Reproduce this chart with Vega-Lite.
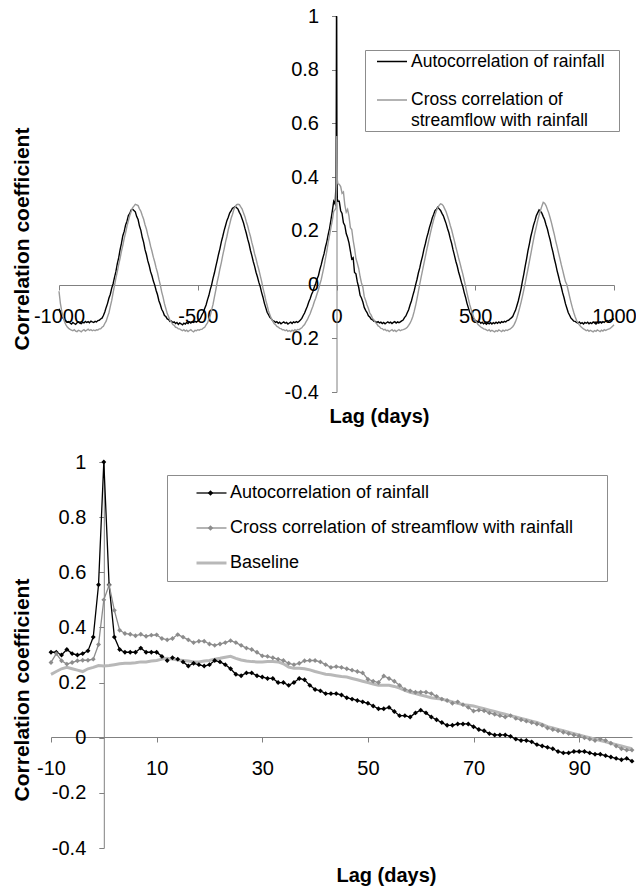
{
"$schema": "https://vega.github.io/schema/vega-lite/v6.json",
"background": "white",
"padding": {"left": 10, "top": 6, "right": 0, "bottom": 0},
"bounds": "full",
"align": "none",
"columns": 1,
"spacing": 26,
"config": {
  "font": "Liberation Sans",
  "view": {"stroke": null},
  "axis": {"grid": false, "domainColor": "#808080", "tickColor": "#808080", "tickSize": 5, "labelFontSize": 20, "labelColor": "#000000", "titleFontSize": 20, "titleFontWeight": "bold", "titleColor": "#000000", "labelFlush": false, "labelOverlap": false},
  "style": {"guide-label": {"lineHeight": 21}}
},
"resolve": {"scale": {"color": "independent", "strokeWidth": "independent", "fill": "independent"}, "legend": {"color": "independent", "strokeWidth": "independent", "fill": "independent"}},
"datasets": {
"top": [
{"lag":-1000,"a":-0.09,"c":-0.025},{"lag":-995,"a":-0.105,"c":-0.07},{"lag":-990,"a":-0.118,"c":-0.1},{"lag":-985,"a":-0.126,"c":-0.122},{"lag":-980,"a":-0.132,"c":-0.138},{"lag":-975,"a":-0.136,"c":-0.15},{"lag":-970,"a":-0.14,"c":-0.158},{"lag":-965,"a":-0.138,"c":-0.163},{"lag":-960,"a":-0.143,"c":-0.167},{"lag":-955,"a":-0.147,"c":-0.17},{"lag":-950,"a":-0.141,"c":-0.172},{"lag":-945,"a":-0.145,"c":-0.168},{"lag":-940,"a":-0.148,"c":-0.173},{"lag":-935,"a":-0.142,"c":-0.175},{"lag":-930,"a":-0.139,"c":-0.17},{"lag":-925,"a":-0.144,"c":-0.172},{"lag":-920,"a":-0.146,"c":-0.176},{"lag":-915,"a":-0.14,"c":-0.171},{"lag":-910,"a":-0.143,"c":-0.168},{"lag":-905,"a":-0.137,"c":-0.173},{"lag":-900,"a":-0.141,"c":-0.17},{"lag":-895,"a":-0.138,"c":-0.166},{"lag":-890,"a":-0.142,"c":-0.171},{"lag":-885,"a":-0.136,"c":-0.168},{"lag":-880,"a":-0.139,"c":-0.172},{"lag":-875,"a":-0.141,"c":-0.169},{"lag":-870,"a":-0.137,"c":-0.172},{"lag":-865,"a":-0.139,"c":-0.168},{"lag":-860,"a":-0.134,"c":-0.169},{"lag":-855,"a":-0.133,"c":-0.165},{"lag":-850,"a":-0.128,"c":-0.165},{"lag":-845,"a":-0.125,"c":-0.159},{"lag":-840,"a":-0.115,"c":-0.155},{"lag":-835,"a":-0.102,"c":-0.145},{"lag":-830,"a":-0.085,"c":-0.136},{"lag":-825,"a":-0.07,"c":-0.12},{"lag":-820,"a":-0.05,"c":-0.105},{"lag":-815,"a":-0.036,"c":-0.081},{"lag":-810,"a":-0.013,"c":-0.059},{"lag":-805,"a":0.003,"c":-0.03},{"lag":-800,"a":0.027,"c":-0.004},{"lag":-795,"a":0.048,"c":0.024},{"lag":-790,"a":0.077,"c":0.047},{"lag":-785,"a":0.099,"c":0.074},{"lag":-780,"a":0.129,"c":0.097},{"lag":-775,"a":0.153,"c":0.124},{"lag":-770,"a":0.182,"c":0.146},{"lag":-765,"a":0.198,"c":0.172},{"lag":-760,"a":0.222,"c":0.193},{"lag":-755,"a":0.236,"c":0.218},{"lag":-750,"a":0.257,"c":0.237},{"lag":-745,"a":0.265,"c":0.257},{"lag":-740,"a":0.278,"c":0.272},{"lag":-735,"a":0.281,"c":0.286},{"lag":-730,"a":0.276,"c":0.292},{"lag":-725,"a":0.271,"c":0.299},{"lag":-720,"a":0.253,"c":0.297},{"lag":-715,"a":0.242,"c":0.294},{"lag":-710,"a":0.218,"c":0.282},{"lag":-705,"a":0.202,"c":0.273},{"lag":-700,"a":0.176,"c":0.257},{"lag":-695,"a":0.157,"c":0.243},{"lag":-690,"a":0.13,"c":0.223},{"lag":-685,"a":0.112,"c":0.207},{"lag":-680,"a":0.088,"c":0.185},{"lag":-675,"a":0.071,"c":0.166},{"lag":-670,"a":0.048,"c":0.143},{"lag":-665,"a":0.033,"c":0.124},{"lag":-660,"a":0.013,"c":0.102},{"lag":-655,"a":-0.002,"c":0.084},{"lag":-650,"a":-0.022,"c":0.062},{"lag":-645,"a":-0.038,"c":0.044},{"lag":-640,"a":-0.06,"c":0.02},{"lag":-635,"a":-0.074,"c":-0.001},{"lag":-630,"a":-0.092,"c":-0.027},{"lag":-625,"a":-0.101,"c":-0.047},{"lag":-620,"a":-0.115,"c":-0.071},{"lag":-615,"a":-0.119,"c":-0.089},{"lag":-610,"a":-0.128,"c":-0.108},{"lag":-605,"a":-0.13,"c":-0.12},{"lag":-600,"a":-0.137,"c":-0.133},{"lag":-595,"a":-0.136,"c":-0.14},{"lag":-590,"a":-0.142,"c":-0.149},{"lag":-585,"a":-0.139,"c":-0.152},{"lag":-580,"a":-0.145,"c":-0.159},{"lag":-575,"a":-0.141,"c":-0.16},{"lag":-570,"a":-0.148,"c":-0.165},{"lag":-565,"a":-0.143,"c":-0.165},{"lag":-560,"a":-0.146,"c":-0.169},{"lag":-555,"a":-0.15,"c":-0.172},{"lag":-550,"a":-0.144,"c":-0.168},{"lag":-545,"a":-0.147,"c":-0.173},{"lag":-540,"a":-0.141,"c":-0.17},{"lag":-535,"a":-0.145,"c":-0.175},{"lag":-530,"a":-0.139,"c":-0.171},{"lag":-525,"a":-0.143,"c":-0.168},{"lag":-520,"a":-0.138,"c":-0.173},{"lag":-515,"a":-0.141,"c":-0.176},{"lag":-510,"a":-0.137,"c":-0.17},{"lag":-505,"a":-0.14,"c":-0.172},{"lag":-500,"a":-0.136,"c":-0.168},{"lag":-495,"a":-0.132,"c":-0.17},{"lag":-490,"a":-0.125,"c":-0.167},{"lag":-485,"a":-0.113,"c":-0.167},{"lag":-480,"a":-0.104,"c":-0.162},{"lag":-475,"a":-0.089,"c":-0.159},{"lag":-470,"a":-0.076,"c":-0.15},{"lag":-465,"a":-0.057,"c":-0.143},{"lag":-460,"a":-0.041,"c":-0.129},{"lag":-455,"a":-0.019,"c":-0.116},{"lag":-450,"a":-0.001,"c":-0.094},{"lag":-445,"a":0.023,"c":-0.074},{"lag":-440,"a":0.043,"c":-0.047},{"lag":-435,"a":0.067,"c":-0.021},{"lag":-430,"a":0.089,"c":0.009},{"lag":-425,"a":0.113,"c":0.032},{"lag":-420,"a":0.134,"c":0.059},{"lag":-415,"a":0.159,"c":0.082},{"lag":-410,"a":0.179,"c":0.109},{"lag":-405,"a":0.201,"c":0.132},{"lag":-400,"a":0.219,"c":0.158},{"lag":-395,"a":0.238,"c":0.179},{"lag":-390,"a":0.251,"c":0.204},{"lag":-385,"a":0.266,"c":0.224},{"lag":-380,"a":0.274,"c":0.246},{"lag":-375,"a":0.284,"c":0.261},{"lag":-370,"a":0.287,"c":0.279},{"lag":-365,"a":0.291,"c":0.289},{"lag":-360,"a":0.286,"c":0.298},{"lag":-355,"a":0.281,"c":0.299},{"lag":-350,"a":0.269,"c":0.298},{"lag":-345,"a":0.259,"c":0.289},{"lag":-340,"a":0.244,"c":0.281},{"lag":-335,"a":0.229,"c":0.266},{"lag":-330,"a":0.209,"c":0.253},{"lag":-325,"a":0.191,"c":0.234},{"lag":-320,"a":0.169,"c":0.218},{"lag":-315,"a":0.151,"c":0.197},{"lag":-310,"a":0.127,"c":0.179},{"lag":-305,"a":0.108,"c":0.156},{"lag":-300,"a":0.086,"c":0.137},{"lag":-295,"a":0.068,"c":0.114},{"lag":-290,"a":0.046,"c":0.096},{"lag":-285,"a":0.029,"c":0.074},{"lag":-280,"a":0.009,"c":0.056},{"lag":-275,"a":-0.007,"c":0.034},{"lag":-270,"a":-0.029,"c":0.013},{"lag":-265,"a":-0.047,"c":-0.013},{"lag":-260,"a":-0.069,"c":-0.034},{"lag":-255,"a":-0.086,"c":-0.058},{"lag":-250,"a":-0.103,"c":-0.077},{"lag":-245,"a":-0.112,"c":-0.098},{"lag":-240,"a":-0.122,"c":-0.112},{"lag":-235,"a":-0.127,"c":-0.127},{"lag":-230,"a":-0.134,"c":-0.135},{"lag":-225,"a":-0.136,"c":-0.145},{"lag":-220,"a":-0.141,"c":-0.149},{"lag":-215,"a":-0.138,"c":-0.156},{"lag":-210,"a":-0.144,"c":-0.158},{"lag":-205,"a":-0.14,"c":-0.163},{"lag":-200,"a":-0.146,"c":-0.164},{"lag":-195,"a":-0.142,"c":-0.168},{"lag":-190,"a":-0.139,"c":-0.168},{"lag":-185,"a":-0.144,"c":-0.172},{"lag":-180,"a":-0.141,"c":-0.169},{"lag":-175,"a":-0.147,"c":-0.174},{"lag":-170,"a":-0.143,"c":-0.171},{"lag":-165,"a":-0.14,"c":-0.175},{"lag":-160,"a":-0.145,"c":-0.17},{"lag":-155,"a":-0.139,"c":-0.173},{"lag":-150,"a":-0.142,"c":-0.168},{"lag":-145,"a":-0.138,"c":-0.171},{"lag":-140,"a":-0.141,"c":-0.167},{"lag":-135,"a":-0.137,"c":-0.168},{"lag":-130,"a":-0.132,"c":-0.164},{"lag":-125,"a":-0.126,"c":-0.161},{"lag":-120,"a":-0.115,"c":-0.154},{"lag":-115,"a":-0.106,"c":-0.149},{"lag":-110,"a":-0.093,"c":-0.139},{"lag":-105,"a":-0.081,"c":-0.131},{"lag":-100,"a":-0.065,"c":-0.119},{"lag":-95,"a":-0.053,"c":-0.109},{"lag":-90,"a":-0.037,"c":-0.094},{"lag":-85,"a":-0.026,"c":-0.081},{"lag":-80,"a":-0.009,"c":-0.064},{"lag":-75,"a":0.004,"c":-0.051},{"lag":-70,"a":0.021,"c":-0.034},{"lag":-65,"a":0.034,"c":-0.019},{"lag":-60,"a":0.056,"c":0.001},{"lag":-55,"a":0.074,"c":0.019},{"lag":-50,"a":0.096,"c":0.043},{"lag":-45,"a":0.114,"c":0.067},{"lag":-40,"a":0.139,"c":0.096},{"lag":-35,"a":0.159,"c":0.124},{"lag":-30,"a":0.186,"c":0.156},{"lag":-25,"a":0.209,"c":0.184},{"lag":-20,"a":0.241,"c":0.213},{"lag":-15,"a":0.274,"c":0.239},{"lag":-10,"a":0.31,"c":0.273},{"lag":-5,"a":0.3,"c":0.279},{"lag":-2,"a":0.365,"c":0.285},{"lag":-1,"a":0.555,"c":0.338},{"lag":0,"a":1,"c":0.5},{"lag":1,"a":0.555,"c":0.553},{"lag":2,"a":0.365,"c":0.462},{"lag":3,"a":0.32,"c":0.39},{"lag":5,"a":0.31,"c":0.375},{"lag":10,"a":0.31,"c":0.373},{"lag":15,"a":0.275,"c":0.365},{"lag":20,"a":0.265,"c":0.34},{"lag":25,"a":0.23,"c":0.345},{"lag":30,"a":0.22,"c":0.297},{"lag":35,"a":0.19,"c":0.27},{"lag":40,"a":0.175,"c":0.28},{"lag":45,"a":0.155,"c":0.255},{"lag":50,"a":0.125,"c":0.212},{"lag":55,"a":0.095,"c":0.205},{"lag":60,"a":0.1,"c":0.165},{"lag":65,"a":0.045,"c":0.135},{"lag":70,"a":0.04,"c":0.097},{"lag":75,"a":0.01,"c":0.08},{"lag":80,"a":-0.01,"c":0.06},{"lag":85,"a":-0.04,"c":0.03},{"lag":90,"a":-0.05,"c":0.006},{"lag":95,"a":-0.065,"c":-0.01},{"lag":100,"a":-0.085,"c":-0.045},{"lag":105,"a":-0.096,"c":-0.059},{"lag":110,"a":-0.104,"c":-0.076},{"lag":115,"a":-0.116,"c":-0.089},{"lag":120,"a":-0.121,"c":-0.106},{"lag":125,"a":-0.129,"c":-0.114},{"lag":130,"a":-0.131,"c":-0.126},{"lag":135,"a":-0.137,"c":-0.132},{"lag":140,"a":-0.137,"c":-0.141},{"lag":145,"a":-0.141,"c":-0.146},{"lag":150,"a":-0.138,"c":-0.154},{"lag":155,"a":-0.143,"c":-0.157},{"lag":160,"a":-0.14,"c":-0.163},{"lag":165,"a":-0.145,"c":-0.164},{"lag":170,"a":-0.141,"c":-0.169},{"lag":175,"a":-0.146,"c":-0.167},{"lag":180,"a":-0.142,"c":-0.172},{"lag":185,"a":-0.139,"c":-0.17},{"lag":190,"a":-0.143,"c":-0.175},{"lag":195,"a":-0.14,"c":-0.171},{"lag":200,"a":-0.145,"c":-0.168},{"lag":205,"a":-0.141,"c":-0.173},{"lag":210,"a":-0.138,"c":-0.17},{"lag":215,"a":-0.143,"c":-0.175},{"lag":220,"a":-0.139,"c":-0.171},{"lag":225,"a":-0.142,"c":-0.168},{"lag":230,"a":-0.139,"c":-0.172},{"lag":235,"a":-0.135,"c":-0.169},{"lag":240,"a":-0.132,"c":-0.168},{"lag":245,"a":-0.123,"c":-0.166},{"lag":250,"a":-0.117,"c":-0.163},{"lag":255,"a":-0.105,"c":-0.159},{"lag":260,"a":-0.094,"c":-0.152},{"lag":265,"a":-0.076,"c":-0.144},{"lag":270,"a":-0.061,"c":-0.133},{"lag":275,"a":-0.041,"c":-0.119},{"lag":280,"a":-0.023,"c":-0.1},{"lag":285,"a":-0.001,"c":-0.078},{"lag":290,"a":0.019,"c":-0.053},{"lag":295,"a":0.043,"c":-0.026},{"lag":300,"a":0.062,"c":0.002},{"lag":305,"a":0.086,"c":0.028},{"lag":310,"a":0.106,"c":0.053},{"lag":315,"a":0.131,"c":0.078},{"lag":320,"a":0.151,"c":0.103},{"lag":325,"a":0.174,"c":0.128},{"lag":330,"a":0.192,"c":0.152},{"lag":335,"a":0.213,"c":0.176},{"lag":340,"a":0.229,"c":0.199},{"lag":345,"a":0.248,"c":0.221},{"lag":350,"a":0.261,"c":0.241},{"lag":355,"a":0.275,"c":0.259},{"lag":360,"a":0.281,"c":0.275},{"lag":365,"a":0.288,"c":0.287},{"lag":370,"a":0.282,"c":0.295},{"lag":375,"a":0.276,"c":0.301},{"lag":380,"a":0.265,"c":0.299},{"lag":385,"a":0.256,"c":0.293},{"lag":390,"a":0.241,"c":0.282},{"lag":395,"a":0.227,"c":0.271},{"lag":400,"a":0.209,"c":0.255},{"lag":405,"a":0.193,"c":0.239},{"lag":410,"a":0.171,"c":0.22},{"lag":415,"a":0.153,"c":0.203},{"lag":420,"a":0.129,"c":0.182},{"lag":425,"a":0.109,"c":0.162},{"lag":430,"a":0.087,"c":0.14},{"lag":435,"a":0.069,"c":0.12},{"lag":440,"a":0.047,"c":0.099},{"lag":445,"a":0.029,"c":0.08},{"lag":450,"a":0.009,"c":0.059},{"lag":455,"a":-0.007,"c":0.04},{"lag":460,"a":-0.029,"c":0.017},{"lag":465,"a":-0.047,"c":-0.006},{"lag":470,"a":-0.069,"c":-0.03},{"lag":475,"a":-0.086,"c":-0.052},{"lag":480,"a":-0.103,"c":-0.074},{"lag":485,"a":-0.112,"c":-0.092},{"lag":490,"a":-0.122,"c":-0.11},{"lag":495,"a":-0.127,"c":-0.123},{"lag":500,"a":-0.134,"c":-0.134},{"lag":505,"a":-0.136,"c":-0.141},{"lag":510,"a":-0.141,"c":-0.149},{"lag":515,"a":-0.138,"c":-0.153},{"lag":520,"a":-0.144,"c":-0.158},{"lag":525,"a":-0.14,"c":-0.161},{"lag":530,"a":-0.146,"c":-0.165},{"lag":535,"a":-0.142,"c":-0.166},{"lag":540,"a":-0.148,"c":-0.169},{"lag":545,"a":-0.143,"c":-0.172},{"lag":550,"a":-0.146,"c":-0.168},{"lag":555,"a":-0.141,"c":-0.174},{"lag":560,"a":-0.147,"c":-0.17},{"lag":565,"a":-0.142,"c":-0.173},{"lag":570,"a":-0.145,"c":-0.176},{"lag":575,"a":-0.14,"c":-0.171},{"lag":580,"a":-0.144,"c":-0.174},{"lag":585,"a":-0.139,"c":-0.169},{"lag":590,"a":-0.143,"c":-0.172},{"lag":595,"a":-0.138,"c":-0.175},{"lag":600,"a":-0.141,"c":-0.17},{"lag":605,"a":-0.137,"c":-0.173},{"lag":610,"a":-0.139,"c":-0.169},{"lag":615,"a":-0.134,"c":-0.171},{"lag":620,"a":-0.133,"c":-0.168},{"lag":625,"a":-0.128,"c":-0.166},{"lag":630,"a":-0.124,"c":-0.162},{"lag":635,"a":-0.119,"c":-0.157},{"lag":640,"a":-0.107,"c":-0.149},{"lag":645,"a":-0.096,"c":-0.138},{"lag":650,"a":-0.079,"c":-0.124},{"lag":655,"a":-0.061,"c":-0.106},{"lag":660,"a":-0.039,"c":-0.087},{"lag":665,"a":-0.016,"c":-0.066},{"lag":670,"a":0.013,"c":-0.044},{"lag":675,"a":0.039,"c":-0.02},{"lag":680,"a":0.069,"c":0.005},{"lag":685,"a":0.096,"c":0.032},{"lag":690,"a":0.126,"c":0.058},{"lag":695,"a":0.151,"c":0.085},{"lag":700,"a":0.178,"c":0.112},{"lag":705,"a":0.199,"c":0.14},{"lag":710,"a":0.221,"c":0.167},{"lag":715,"a":0.237,"c":0.193},{"lag":720,"a":0.256,"c":0.215},{"lag":725,"a":0.267,"c":0.238},{"lag":730,"a":0.278,"c":0.258},{"lag":735,"a":0.273,"c":0.276},{"lag":740,"a":0.266,"c":0.292},{"lag":745,"a":0.253,"c":0.306},{"lag":750,"a":0.241,"c":0.303},{"lag":755,"a":0.223,"c":0.294},{"lag":760,"a":0.207,"c":0.28},{"lag":765,"a":0.185,"c":0.266},{"lag":770,"a":0.166,"c":0.248},{"lag":775,"a":0.141,"c":0.229},{"lag":780,"a":0.121,"c":0.207},{"lag":785,"a":0.096,"c":0.186},{"lag":790,"a":0.075,"c":0.162},{"lag":795,"a":0.051,"c":0.141},{"lag":800,"a":0.031,"c":0.118},{"lag":805,"a":0.009,"c":0.097},{"lag":810,"a":-0.009,"c":0.074},{"lag":815,"a":-0.031,"c":0.054},{"lag":820,"a":-0.049,"c":0.032},{"lag":825,"a":-0.071,"c":0.011},{"lag":830,"a":-0.087,"c":0.0},{"lag":835,"a":-0.104,"c":-0.022},{"lag":840,"a":-0.114,"c":-0.045},{"lag":845,"a":-0.125,"c":-0.066},{"lag":850,"a":-0.13,"c":-0.086},{"lag":855,"a":-0.136,"c":-0.104},{"lag":860,"a":-0.137,"c":-0.12},{"lag":865,"a":-0.141,"c":-0.133},{"lag":870,"a":-0.144,"c":-0.143},{"lag":875,"a":-0.139,"c":-0.15},{"lag":880,"a":-0.145,"c":-0.156},{"lag":885,"a":-0.142,"c":-0.161},{"lag":890,"a":-0.147,"c":-0.165},{"lag":895,"a":-0.141,"c":-0.168},{"lag":900,"a":-0.144,"c":-0.172},{"lag":905,"a":-0.14,"c":-0.169},{"lag":910,"a":-0.146,"c":-0.174},{"lag":915,"a":-0.142,"c":-0.17},{"lag":920,"a":-0.145,"c":-0.173},{"lag":925,"a":-0.139,"c":-0.176},{"lag":930,"a":-0.143,"c":-0.171},{"lag":935,"a":-0.147,"c":-0.174},{"lag":940,"a":-0.141,"c":-0.169},{"lag":945,"a":-0.144,"c":-0.172},{"lag":950,"a":-0.139,"c":-0.175},{"lag":955,"a":-0.143,"c":-0.17},{"lag":960,"a":-0.138,"c":-0.173},{"lag":965,"a":-0.141,"c":-0.168},{"lag":970,"a":-0.136,"c":-0.171},{"lag":975,"a":-0.134,"c":-0.168},{"lag":980,"a":-0.137,"c":-0.166},{"lag":985,"a":-0.133,"c":-0.164},{"lag":990,"a":-0.131,"c":-0.16},{"lag":995,"a":-0.13,"c":-0.155},{"lag":1000,"a":-0.127,"c":-0.15}
],
"bottom": [
{"lag":-10,"a":0.31,"c":0.273,"b":0.23},{"lag":-9,"a":0.31,"c":0.305,"b":0.24},{"lag":-8,"a":0.3,"c":0.279,"b":0.25},{"lag":-7,"a":0.32,"c":0.267,"b":0.255},{"lag":-6,"a":0.305,"c":0.273,"b":0.25},{"lag":-5,"a":0.3,"c":0.279,"b":0.245},{"lag":-4,"a":0.305,"c":0.281,"b":0.24},{"lag":-3,"a":0.315,"c":0.281,"b":0.25},{"lag":-2,"a":0.365,"c":0.285,"b":0.255},{"lag":-1,"a":0.555,"c":0.338,"b":0.262},{"lag":0,"a":1,"c":0.5,"b":0.26},{"lag":1,"a":0.555,"c":0.553,"b":0.262},{"lag":2,"a":0.365,"c":0.462,"b":0.265},{"lag":3,"a":0.32,"c":0.39,"b":0.268},{"lag":4,"a":0.31,"c":0.378,"b":0.27},{"lag":5,"a":0.31,"c":0.375,"b":0.27},{"lag":6,"a":0.31,"c":0.37,"b":0.272},{"lag":7,"a":0.325,"c":0.375,"b":0.275},{"lag":8,"a":0.31,"c":0.368,"b":0.275},{"lag":9,"a":0.31,"c":0.372,"b":0.278},{"lag":10,"a":0.31,"c":0.373,"b":0.28},{"lag":11,"a":0.295,"c":0.36,"b":0.285},{"lag":12,"a":0.28,"c":0.355,"b":0.288},{"lag":13,"a":0.29,"c":0.36,"b":0.285},{"lag":14,"a":0.285,"c":0.374,"b":0.282},{"lag":15,"a":0.275,"c":0.365,"b":0.28},{"lag":16,"a":0.26,"c":0.355,"b":0.278},{"lag":17,"a":0.27,"c":0.345,"b":0.275},{"lag":18,"a":0.265,"c":0.35,"b":0.275},{"lag":19,"a":0.26,"c":0.35,"b":0.278},{"lag":20,"a":0.265,"c":0.34,"b":0.28},{"lag":21,"a":0.28,"c":0.335,"b":0.285},{"lag":22,"a":0.275,"c":0.34,"b":0.288},{"lag":23,"a":0.265,"c":0.345,"b":0.292},{"lag":24,"a":0.25,"c":0.352,"b":0.295},{"lag":25,"a":0.23,"c":0.345,"b":0.288},{"lag":26,"a":0.225,"c":0.335,"b":0.282},{"lag":27,"a":0.235,"c":0.325,"b":0.278},{"lag":28,"a":0.235,"c":0.32,"b":0.276},{"lag":29,"a":0.225,"c":0.31,"b":0.275},{"lag":30,"a":0.22,"c":0.297,"b":0.275},{"lag":31,"a":0.215,"c":0.295,"b":0.276},{"lag":32,"a":0.215,"c":0.29,"b":0.276},{"lag":33,"a":0.2,"c":0.285,"b":0.275},{"lag":34,"a":0.2,"c":0.28,"b":0.268},{"lag":35,"a":0.19,"c":0.27,"b":0.256},{"lag":36,"a":0.2,"c":0.265,"b":0.252},{"lag":37,"a":0.215,"c":0.27,"b":0.252},{"lag":38,"a":0.21,"c":0.279,"b":0.25},{"lag":39,"a":0.19,"c":0.28,"b":0.246},{"lag":40,"a":0.175,"c":0.28,"b":0.24},{"lag":41,"a":0.17,"c":0.275,"b":0.235},{"lag":42,"a":0.16,"c":0.265,"b":0.23},{"lag":43,"a":0.16,"c":0.255,"b":0.228},{"lag":44,"a":0.16,"c":0.258,"b":0.225},{"lag":45,"a":0.155,"c":0.255,"b":0.222},{"lag":46,"a":0.145,"c":0.25,"b":0.22},{"lag":47,"a":0.14,"c":0.245,"b":0.215},{"lag":48,"a":0.135,"c":0.24,"b":0.21},{"lag":49,"a":0.13,"c":0.235,"b":0.205},{"lag":50,"a":0.125,"c":0.212,"b":0.2},{"lag":51,"a":0.115,"c":0.205,"b":0.195},{"lag":52,"a":0.105,"c":0.2,"b":0.19},{"lag":53,"a":0.105,"c":0.224,"b":0.19},{"lag":54,"a":0.11,"c":0.215,"b":0.19},{"lag":55,"a":0.095,"c":0.205,"b":0.186},{"lag":56,"a":0.08,"c":0.19,"b":0.18},{"lag":57,"a":0.08,"c":0.175,"b":0.172},{"lag":58,"a":0.075,"c":0.17,"b":0.165},{"lag":59,"a":0.09,"c":0.165,"b":0.16},{"lag":60,"a":0.1,"c":0.165,"b":0.155},{"lag":61,"a":0.09,"c":0.165,"b":0.15},{"lag":62,"a":0.075,"c":0.16,"b":0.145},{"lag":63,"a":0.065,"c":0.15,"b":0.142},{"lag":64,"a":0.055,"c":0.14,"b":0.14},{"lag":65,"a":0.045,"c":0.135,"b":0.135},{"lag":66,"a":0.045,"c":0.125,"b":0.13},{"lag":67,"a":0.05,"c":0.13,"b":0.125},{"lag":68,"a":0.05,"c":0.12,"b":0.12},{"lag":69,"a":0.05,"c":0.11,"b":0.118},{"lag":70,"a":0.04,"c":0.097,"b":0.115},{"lag":71,"a":0.03,"c":0.1,"b":0.11},{"lag":72,"a":0.025,"c":0.098,"b":0.105},{"lag":73,"a":0.015,"c":0.09,"b":0.1},{"lag":74,"a":0.01,"c":0.085,"b":0.095},{"lag":75,"a":0.01,"c":0.08,"b":0.09},{"lag":76,"a":0.01,"c":0.075,"b":0.085},{"lag":77,"a":0.005,"c":0.08,"b":0.08},{"lag":78,"a":-0.005,"c":0.07,"b":0.075},{"lag":79,"a":-0.01,"c":0.065,"b":0.07},{"lag":80,"a":-0.01,"c":0.06,"b":0.065},{"lag":81,"a":-0.015,"c":0.055,"b":0.06},{"lag":82,"a":-0.025,"c":0.05,"b":0.055},{"lag":83,"a":-0.03,"c":0.045,"b":0.048},{"lag":84,"a":-0.035,"c":0.035,"b":0.04},{"lag":85,"a":-0.04,"c":0.03,"b":0.035},{"lag":86,"a":-0.05,"c":0.025,"b":0.03},{"lag":87,"a":-0.055,"c":0.02,"b":0.025},{"lag":88,"a":-0.055,"c":0.015,"b":0.02},{"lag":89,"a":-0.05,"c":0.01,"b":0.015},{"lag":90,"a":-0.05,"c":0.006,"b":0.01},{"lag":91,"a":-0.05,"c":0.0,"b":0.005},{"lag":92,"a":-0.055,"c":-0.005,"b":0.0},{"lag":93,"a":-0.06,"c":-0.01,"b":-0.005},{"lag":94,"a":-0.06,"c":-0.005,"b":-0.01},{"lag":95,"a":-0.065,"c":-0.01,"b":-0.015},{"lag":96,"a":-0.07,"c":-0.02,"b":-0.02},{"lag":97,"a":-0.075,"c":-0.03,"b":-0.025},{"lag":98,"a":-0.08,"c":-0.04,"b":-0.03},{"lag":99,"a":-0.075,"c":-0.045,"b":-0.035},{"lag":100,"a":-0.085,"c":-0.045,"b":-0.04}
]
},
"concat": [
{
  "width": 563, "height": 376,
  "data": {"name": "top"},
  "transform": [{"fold": ["a", "c"], "as": ["key", "r"]}],
  "mark": {"type": "line", "strokeWidth": 1.4},
  "encoding": {
    "x": {"field": "lag", "type": "quantitative", "scale": {"domain": [-1000, 1000], "range": [8, 563], "nice": false, "zero": false},
      "axis": {"values": [-1000, -500, 0, 500, 1000], "offset": -107, "labelPadding": 16, "title": "Lag (days)", "titleX": 328, "titleY": 131, "titleBaseline": "middle", "labelExpr": "(datum.value < 0 ? '-' : '') + format(abs(datum.value), '~g')"}},
    "y": {"field": "r", "type": "quantitative", "scale": {"domain": [-0.4, 1], "nice": false, "zero": false},
      "axis": {"values": [-0.4, -0.2, 0, 0.2, 0.4, 0.6, 0.8, 1], "offset": -285.5, "labelPadding": 13, "title": "Correlation coefficient", "titleFontSize": 21, "titleX": -314.5, "titleY": 222.5, "titleBaseline": "middle", "labelExpr": "(datum.value < 0 ? '-' : '') + format(abs(datum.value), '~g')"}},
    "color": {"field": "key", "type": "nominal", "scale": {"domain": ["a", "c"], "range": ["#000000", "#9a9a9a"]},
      "legend": {"orient": "none", "legendX": 314, "legendY": 34, "title": null, "strokeColor": "#8c8c8c", "padding": 1, "symbolType": "stroke", "symbolSize": 900, "symbolStrokeWidth": 1.5, "symbolOffset": 10, "labelOffset": 3, "labelFontSize": 17.5, "labelLimit": 400, "clipHeight": 21, "rowPadding": 17.5, "labelBaseline": "middle",
        "labelExpr": "datum.value == 'a' ? 'Autocorrelation of rainfall\u2800' : ['Cross correlation of', 'streamflow with rainfall']"}}
  }
},
{
  "width": 581, "height": 386,
  "data": {"name": "bottom"},
  "encoding": {
    "x": {"field": "lag", "type": "quantitative", "scale": {"domain": [-10, 100], "nice": false, "zero": false},
      "axis": {"values": [-10, 10, 30, 50, 70, 90], "offset": -111, "labelPadding": 16, "title": "Lag (days)", "titleX": 335, "titleY": 138.5, "titleBaseline": "middle", "labelExpr": "(datum.value < 0 ? '-' : '') + format(abs(datum.value), '~g')"}},
    "y": {"field": "r", "type": "quantitative", "scale": {"domain": [-0.4, 1], "nice": false, "zero": false},
      "axis": {"values": [-0.4, -0.2, 0, 0.2, 0.4, 0.6, 0.8, 1], "offset": -52.8, "labelPadding": 13, "title": "Correlation coefficient", "titleFontSize": 21, "titleX": -81.8, "titleY": 227.5, "titleBaseline": "middle", "labelExpr": "(datum.value < 0 ? '-' : '') + format(abs(datum.value), '~g')"}}
  },
  "layer": [
    {
      "transform": [{"fold": ["a", "c", "b"], "as": ["key", "r"]}],
      "mark": {"type": "line"},
      "encoding": {
        "color": {"field": "key", "type": "nominal", "scale": {"domain": ["a", "c", "b"], "range": ["#000000", "#8c8c8c", "#b8b8b8"]},
          "legend": {"orient": "none", "legendX": 116, "legendY": 13, "title": null, "strokeColor": "#8c8c8c", "padding": 7, "symbolType": "stroke", "symbolSize": 900, "symbolOffset": 21, "labelOffset": 2, "labelFontSize": 18, "labelLimit": 500, "clipHeight": 22, "rowPadding": 13,
            "labelExpr": "datum.value == 'a' ? 'Autocorrelation of rainfall' : datum.value == 'c' ? 'Cross correlation of streamflow with rainfall\u2800\u2800' : 'Baseline'"}},
        "strokeWidth": {"field": "key", "type": "nominal", "scale": {"type": "ordinal", "domain": ["a", "c", "b"], "range": [1.3, 1.3, 3]},
          "legend": {"orient": "none", "legendX": 116, "legendY": 13, "title": null, "strokeColor": "#8c8c8c", "padding": 7, "symbolType": "stroke", "symbolSize": 900, "symbolOffset": 21, "labelOffset": 2, "labelFontSize": 18, "labelLimit": 500, "clipHeight": 22, "rowPadding": 13,
            "labelExpr": "datum.value == 'a' ? 'Autocorrelation of rainfall' : datum.value == 'c' ? 'Cross correlation of streamflow with rainfall\u2800\u2800' : 'Baseline'"}}
      }
    },
    {
      "transform": [{"fold": ["a", "c"], "as": ["key", "r"]}],
      "mark": {"type": "point", "shape": "diamond", "filled": true, "size": 24, "opacity": 1},
      "encoding": {
        "fill": {"field": "key", "type": "nominal", "scale": {"domain": ["a", "c"], "range": ["#000000", "#8c8c8c"]},
          "legend": {"orient": "none", "legendX": 116, "legendY": 13, "title": null, "padding": 7, "symbolType": "diamond", "symbolSize": 30, "symbolOffset": 33, "labelOffset": 2, "labelFontSize": 4, "labelOpacity": 0, "labelLimit": 500, "clipHeight": 22, "rowPadding": 13,
            "labelExpr": "''"}}
      }
    }
  ]
}
]
}
